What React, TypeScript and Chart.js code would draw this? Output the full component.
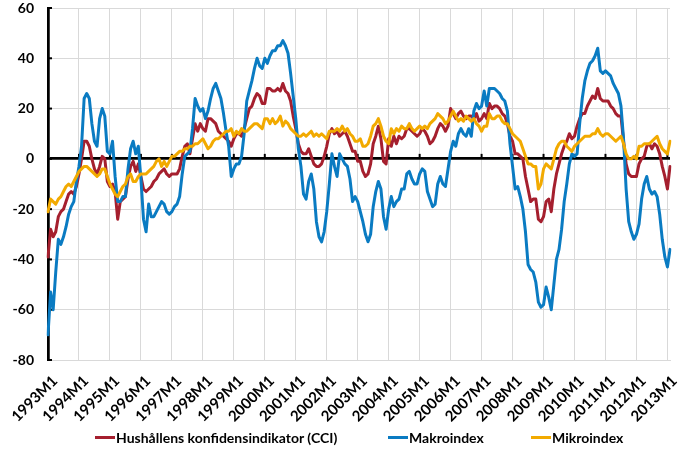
import React, { useEffect, useRef } from 'react';
import { Chart, registerables } from 'chart.js';

Chart.register(...registerables);

// Monthly categories 1993M1 .. 2013M2
const START_YEAR = 1993;
const N_MONTHS = 242;
const months: string[] = Array.from({ length: N_MONTHS }, (_, i) => `${START_YEAR + Math.floor(i / 12)}M${(i % 12) + 1}`);

const yTicks = [-80, -60, -40, -20, 0, 20, 40, 60];

// Hushållens konfidensindikator (CCI)
const cci: number[] = [
  -39, -28, -31, -29, -23, -21, -20, -17, -14, -13, -14, -11,
  -6, 0, 7, 7, 5, 0, -4, -6, -3, 1, 0, -9,
  -11, -10, -13, -24, -17, -16, -15, -8, -3, -1, -5, -2,
  -7, -12, -13, -12, -11, -9, -8, -6, -5, -4, -6, -7,
  -6, -6, -6, -4, 1, 5, 6, 2, 8, 14, 11, 14,
  12, 11, 16, 16, 15, 14, 11, 10, 9, 8, 7, 5,
  8, 10, 10, 9, 12, 16, 20, 21, 24, 26, 25, 22,
  22, 28, 28, 27, 27, 28, 27, 30, 27, 26, 23, 17,
  12, 6, 3, 2, 2, 4, 1, -2, -3, -3, -2, 1,
  5, 10, 12, 10, 11, 9, 10, 11, 9, 6, 3, 3,
  -1, -1, -5, -7, -6, -2, 6, 9, 13, 8, -1, -2,
  8, 5, 9, 6, 9, 8, 9, 12, 12, 11, 10, 9,
  10, 12, 11, 9, 6, 7, 9, 12, 14, 13, 11, 13,
  20, 18, 16, 18, 19, 17, 16, 17, 17, 16, 18, 15,
  16, 18, 16, 22, 20, 21, 21, 20, 18, 17, 14, 9,
  7, 2, 2, 1, 0, -7, -12, -17, -16, -16, -24, -25,
  -23, -17, -16, -21, -12, -6, -2, 2, 5, 7, 10, 8,
  9, 13, 16, 18, 18, 21, 23, 25, 24, 28, 24, 23,
  23, 23, 21, 20, 18, 17, 17, 7, -2, -6, -7, -7,
  -7, -2, 0, 1, 5, 6, 4, 6, 5, 2, -3, -7,
  -12, -3,
];

// Makroindex
const makro: number[] = [
  -70, -53, -60, -45, -32, -34, -31, -27, -22, -19, -17, -9,
  -3, 5, 24, 26, 24, 14, 7, 5, 16, 20, 17, 3,
  2, 7, -7, -17, -17, -15, -15, -4, 4, 7, 2, 5,
  -8, -24, -29, -18, -23, -23, -21, -19, -17, -18, -21, -22,
  -21, -19, -18, -15, -6, 1, 2, 3, 12, 24, 21, 19,
  20, 16, 19, 24, 28, 30, 27, 24, 18, 11, 5, -7,
  -4, -2, -2, 1, 10, 23, 27, 31, 36, 40, 37, 36,
  40, 38, 41, 43, 43, 45, 45, 47, 45, 42, 34, 25,
  16, 4, -3, -14, -16, -9, -6, -12, -25, -31, -33, -29,
  -21, -10, 2, -3, -7, 2, 0, -2, -3, -8, -17, -15,
  -17, -21, -25, -30, -33, -30, -19, -13, -9, -12, -23, -28,
  -20, -15, -19, -17, -16, -12, -12, -6, -5, -8, -10, -10,
  -6, -4, -5, -13, -16, -19, -18, -10, -7, -10, -11, -4,
  3, 7, 5, 10, 12, 10, 9, 12, 9, 19, 22, 20,
  21, 27, 21, 28, 28, 28, 27, 26, 24, 23, 19, 6,
  -3, -12, -11, -15, -20, -29, -42, -44, -45, -49, -57, -59,
  -58, -51, -55, -60, -50, -40, -36, -28, -17, -10, -2, 2,
  1, 2, 14, 24, 31, 35, 38, 39, 41, 44, 35, 34,
  35, 34, 33, 30, 28, 26, 21, 8, -12, -25, -29, -32,
  -30, -26, -16, -10, -7, -12, -14, -13, -15, -22, -32, -39,
  -43, -36,
];

// Mikroindex
const mikro: number[] = [
  -21, -16, -17, -18, -16, -15, -13, -11, -10, -11, -9, -7,
  -5, -4, -3, -3, -4, -5, -6, -7, -6, -4, -4, -7,
  -10, -12, -14, -15, -13, -11, -10, -7, -6, -9, -9, -7,
  -6, -6, -6, -5, -4, -3, -1, 0, -3, -1, -3, -1,
  1, 1, 2, 3, 3, 4, 4, 5, 5, 6, 6, 7,
  8, 6, 4, 5, 7, 8, 8, 9, 10, 11, 11, 12,
  9, 11, 10, 12, 11, 11, 12, 13, 14, 14, 13, 12,
  16, 16, 14, 16, 14, 15, 17, 13, 15, 14, 12, 11,
  10, 9, 9, 10, 9, 10, 11, 9, 10, 9, 10, 9,
  8, 11, 11, 11, 12, 11, 13, 11, 12, 10, 9, 7,
  7, 8, 5, 5, 6, 9, 13, 14, 16, 13, 9, 7,
  6, 12, 10, 12, 11, 13, 12, 12, 14, 12, 11, 12,
  13, 12, 13, 12, 14, 15, 16, 18, 17, 16, 14, 15,
  17, 19, 17, 15, 16, 15, 17, 16, 15, 16, 14, 13,
  11, 13, 13, 18, 16, 16, 17, 17, 15, 14, 14, 12,
  10, 9, 8, 7, 4, 1, -2, -2, -3, -3, -12, -10,
  -4, -2, -3, -4, 0, 4, 6, 7, 7, 5, 4, 3,
  5, 6, 7, 8, 9, 9, 9, 10, 10, 12, 10, 9,
  10, 10, 9, 8, 7, 8, 9, 6, 2, 0, 0, 1,
  0, 5, 5, 6, 6, 6, 7, 8, 9, 6, 4, 3,
  2, 7,
];

const seriesNames = ['Hushållens konfidensindikator (CCI)', 'Makroindex', 'Mikroindex'];
const seriesColors = ['#A51F2E', '#0A7BC2', '#F2AA00'];

const FONT = 'Lato, "Open Sans", sans-serif';

const axisMarks = {
  id: 'axisMarks',
  beforeDatasetsDraw(chart: any) {
    const { ctx, scales, chartArea } = chart;
    const x = scales.x;
    const y = scales.y;
    const y0 = y.getPixelForValue(0);
    ctx.save();
    ctx.strokeStyle = '#000';
    ctx.lineWidth = 2;
    for (let i = 12; i < months.length; i += 12) {
      const px = x.getPixelForValue(i);
      ctx.beginPath();
      ctx.moveTo(px, y0 - 5);
      ctx.lineTo(px, y0);
      ctx.stroke();
    }
    for (const v of yTicks) {
      const py = y.getPixelForValue(v);
      ctx.beginPath();
      ctx.moveTo(chartArea.left, py);
      ctx.lineTo(chartArea.left + 4, py);
      ctx.stroke();
    }
    ctx.restore();
  },
};

function LineChart() {
  const ref = useRef<HTMLCanvasElement | null>(null);
  useEffect(() => {
    if (!ref.current) return;
    const data = [cci, makro, mikro];
    const chart = new Chart(ref.current, {
      type: 'line',
      data: {
        labels: months,
        datasets: data.map((d, i) => ({
          label: seriesNames[i],
          data: d,
          borderColor: seriesColors[i],
          backgroundColor: seriesColors[i],
          borderWidth: 3,
          pointRadius: 0,
          tension: 0,
          fill: false,
          borderJoinStyle: 'round' as const,
          borderCapStyle: 'round' as const,
          order: 2 - i,
        })),
      },
      options: {
        responsive: false,
        animation: false,
        layout: { padding: { top: 8, right: 23, bottom: 0, left: 0 }, autoPadding: false },
        plugins: { legend: { display: false }, tooltip: { enabled: false } },
        scales: {
          x: {
            type: 'category',
            offset: false,
            afterFit: (s: any) => { s.height = 93; s.paddingLeft = 0; s.paddingRight = 0; },
            grid: {
              color: (c: any) => (c.index % 12 === 0 ? '#d9d9d9' : 'rgba(0,0,0,0)'),
              lineWidth: 1,
              drawTicks: false,
            },
            border: { color: '#d9d9d9', width: 1 },
            ticks: {
              autoSkip: false,
              maxRotation: 45,
              minRotation: 45,
              padding: 12,
              labelOffset: 7,
              color: '#000',
              font: { family: FONT, size: 15, weight: 'bold' },
              callback: (_v: any, i: number) => (i % 12 === 0 ? months[i] : ''),
            },
          },
          y: {
            min: -80,
            max: 60,
            afterFit: (s: any) => { s.width = 48; s.paddingTop = 0; s.paddingBottom = 0; },
            grid: {
              color: (c: any) => (c.tick && c.tick.value === 0 ? '#000' : '#d9d9d9'),
              lineWidth: (c: any) => (c.tick && c.tick.value === 0 ? 2.75 : 1),
              drawTicks: false,
            },
            border: { color: '#000', width: 2.75 },
            ticks: {
              stepSize: 20,
              padding: 14,
              color: '#000',
              font: { family: FONT, size: 14, weight: 'bold' },
            },
          },
        },
      },
      plugins: [axisMarks],
    } as any);
    return () => chart.destroy();
  }, []);
  return <canvas ref={ref} width={693} height={453} style={{ position: 'absolute', left: 0, top: 0 }} />;
}

const legendLeft = [95, 388, 531];

export default function App() {
  return (
    <div style={{ position: 'fixed', left: 0, top: 0, width: 693, height: 453, background: '#fff', overflow: 'hidden' }}>
      <LineChart />
      {seriesNames.map((name, i) => (
        <div
          key={name}
          style={{
            position: 'absolute',
            left: legendLeft[i],
            top: 428,
            height: 18,
            display: 'flex',
            alignItems: 'center',
            fontFamily: FONT,
            fontWeight: 'bold',
            fontSize: 14,
            color: '#000',
            whiteSpace: 'nowrap',
          }}
        >
          <span style={{ display: 'inline-block', width: 20, height: 3, background: seriesColors[i], marginRight: 1 }} />
          <span>{name}</span>
        </div>
      ))}
    </div>
  );
}
